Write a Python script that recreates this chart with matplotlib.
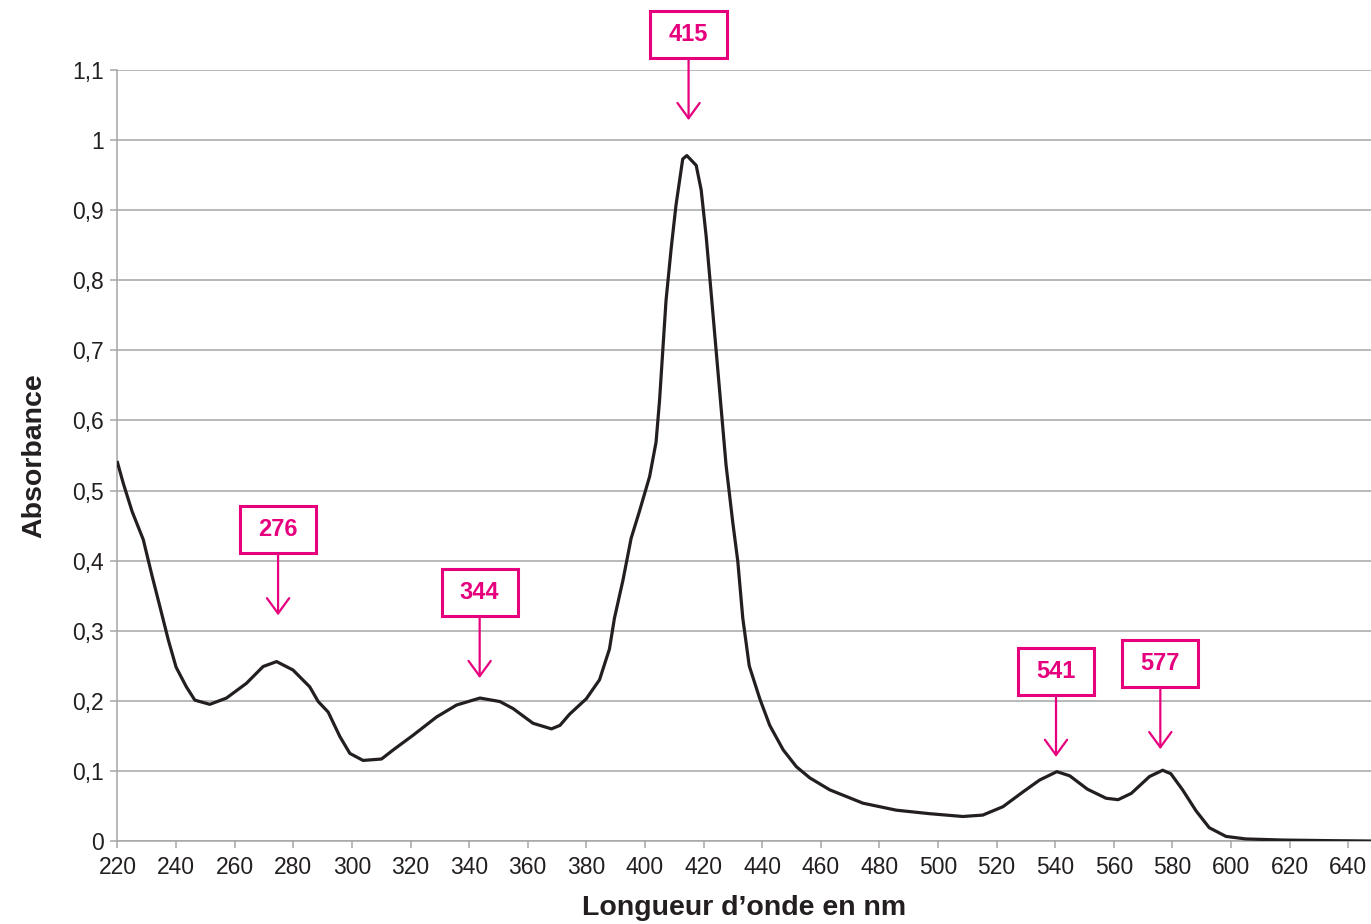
import matplotlib
matplotlib.use('Agg')
import matplotlib.pyplot as plt
import numpy as np
from matplotlib.patches import Rectangle
from matplotlib.ticker import FixedLocator, FuncFormatter

plt.rcParams['font.family'] = ['Liberation Sans', 'DejaVu Sans']

# absorption spectrum
wavelength = [220, 222, 225, 228.8, 231.7, 234.5, 237.4, 240, 243.5, 246.4, 251.5,
              257.2, 264, 269.7, 274.3, 279.9, 285.6, 288.5, 291.9, 295.9, 299.3,
              303.8, 310.1, 314.1, 320.9, 328.9, 335.7, 343.7, 350.5, 355, 361.8,
              368.1, 371, 374.3, 380, 384.5, 387.9, 389.6, 392.5, 395.3, 398.1,
              401.6, 403.8, 405, 406.1, 407.2, 409, 410.6, 412.9, 414.3, 417.5,
              419.2, 420.9, 422.6, 424.3, 426, 427.7, 430, 431.7, 433.4, 435.6,
              439.2, 442.6, 447.2, 451.7, 456.3, 463.1, 474.4, 485.8, 497.2, 508.5,
              515.3, 522.2, 529, 534.7, 540.6, 545, 551, 557.4, 561.5, 566, 572.2,
              576.7, 579.5, 583.5, 588.1, 592.6, 598.3, 605, 617.6, 634.7, 648]
absorbance = [0.54, 0.51, 0.47, 0.43, 0.38, 0.334, 0.286, 0.248, 0.22, 0.201, 0.195,
              0.204, 0.225, 0.249, 0.256, 0.244, 0.22, 0.199, 0.184, 0.149, 0.125,
              0.115, 0.117, 0.13, 0.151, 0.177, 0.194, 0.204, 0.199, 0.189, 0.168,
              0.16, 0.165, 0.181, 0.203, 0.23, 0.274, 0.318, 0.372, 0.432, 0.47,
              0.52, 0.569, 0.629, 0.70, 0.771, 0.847, 0.907, 0.973, 0.978, 0.964,
              0.929, 0.863, 0.782, 0.70, 0.618, 0.536, 0.454, 0.399, 0.318, 0.25,
              0.203, 0.165, 0.13, 0.106, 0.09, 0.073, 0.054, 0.044, 0.039, 0.035,
              0.037, 0.049, 0.07, 0.087, 0.099, 0.093, 0.074, 0.061, 0.059, 0.068, 0.092,
              0.101, 0.096, 0.073, 0.043, 0.019, 0.0066, 0.003, 0.0014, 0.0005, 0.0]

# peak labels, the wavelength their arrow sits at, and where it points
peaks = [276, 344, 415, 541, 577]
arrow_x = [274.8, 343.6, 414.9, 540.3, 575.9]
arrow_tip = [0.322, 0.2325, 1.0285, 0.12, 0.131]

x_ticks = list(range(220, 641, 20))
y_ticks = [0, 0.1, 0.2, 0.3, 0.4, 0.5, 0.6, 0.7, 0.8, 0.9, 1.0, 1.1]

pink = '#E6007E'
grid_grey = '#a6a6a6'
ink = '#231f20'

fig = plt.figure(figsize=(13.71, 9.24), dpi=100)
ax = fig.add_axes([0.0857, 0.0898, 0.9143, 0.8344])

ax.plot(wavelength, absorbance, color=ink, linewidth=2.3, solid_joinstyle='round', zorder=3)

ax.set_xlim(220, 647.8)
ax.set_ylim(0, 1.1)
ax.xaxis.set_major_locator(FixedLocator(x_ticks))
ax.yaxis.set_major_locator(FixedLocator(y_ticks))
ax.yaxis.set_major_formatter(FuncFormatter(lambda v, p: f'{v:g}'.replace('.', ',')))

ax.grid(axis='y', color=grid_grey, linewidth=1.1)
ax.set_axisbelow(True)
for s in ['top', 'right']:
    ax.spines[s].set_visible(False)
for s in ['left', 'bottom']:
    ax.spines[s].set_color(grid_grey)
    ax.spines[s].set_linewidth(1.1)
ax.tick_params(axis='both', direction='out', length=5, width=1.1, color=grid_grey,
               labelcolor=ink, labelsize=16.5)
ax.tick_params(axis='x', pad=6)
ax.tick_params(axis='y', pad=5)

ax.set_xlabel('Longueur d\u2019onde en nm', fontsize=20.5, fontweight='bold', color=ink, labelpad=11)
ax.set_ylabel('Absorbance', fontsize=20.5, fontweight='bold', color=ink, labelpad=18)

# boxed peak labels with arrows
box_w = 26.0
box_h = 0.067
gap = 0.0885
for lab, ax_x, tip in zip(peaks, arrow_x, arrow_tip):
    ax.annotate('', xy=(ax_x, tip), xytext=(ax_x, tip + gap),
                arrowprops=dict(arrowstyle='->,head_length=0.55,head_width=0.4',
                                color=pink, lw=1.6, mutation_scale=20,
                                shrinkA=0, shrinkB=0),
                annotation_clip=False, zorder=5)
    ax.add_patch(Rectangle((ax_x - box_w / 2, tip + gap), box_w, box_h,
                           facecolor='white', edgecolor=pink, linewidth=2.2,
                           clip_on=False, zorder=6))
    ax.text(ax_x, tip + gap + box_h / 2, str(lab), color=pink, fontsize=17,
            fontweight='bold', ha='center', va='center', zorder=7, clip_on=False)

fig.savefig('out.png', dpi=100, facecolor='white')
